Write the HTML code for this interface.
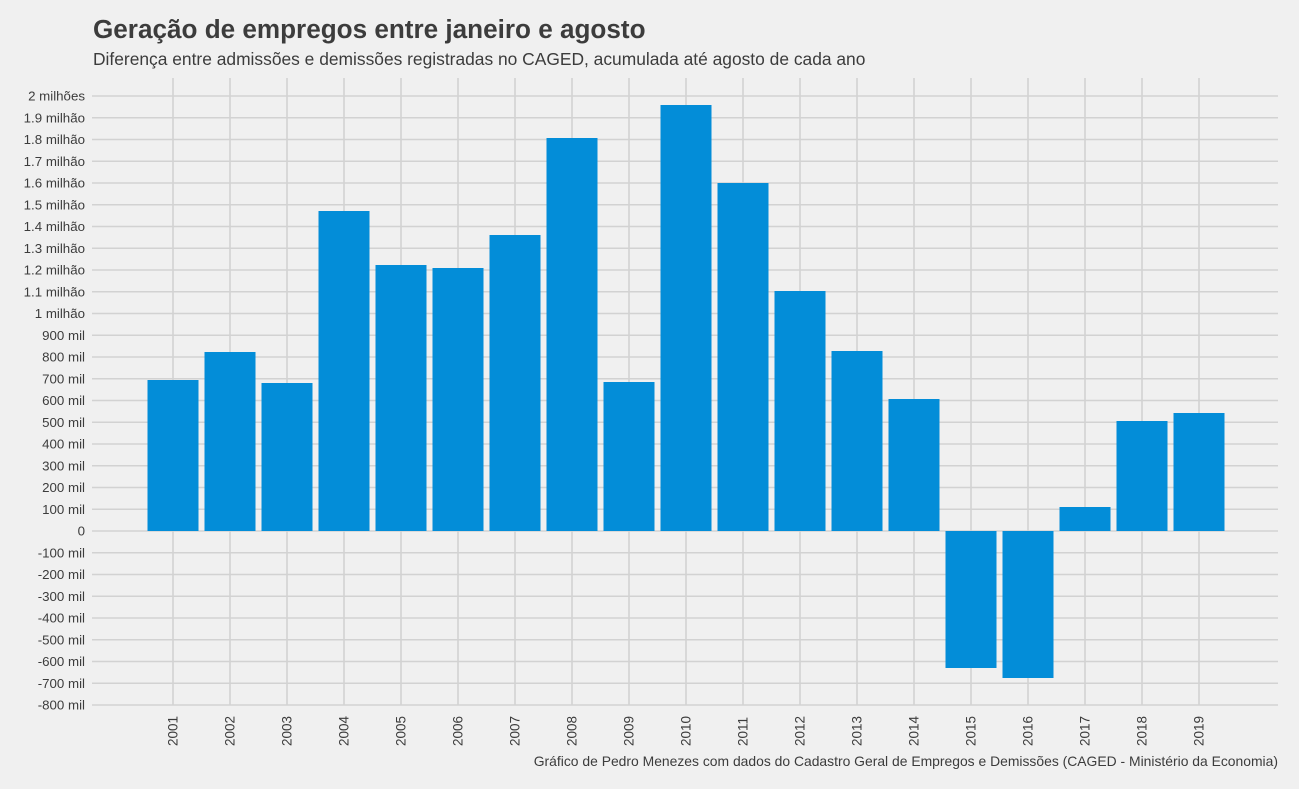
<!DOCTYPE html>
<html><head><meta charset="utf-8"><style>
html,body{margin:0;padding:0;background:#f0f0f0;}
svg{display:block;font-family:"Liberation Sans",sans-serif;}
</style></head><body>
<svg width="1299" height="789" viewBox="0 0 1299 789" xmlns="http://www.w3.org/2000/svg">
<rect width="1299" height="789" fill="#f0f0f0"/>
<text x="93" y="38" font-size="26.1" font-weight="bold" fill="#3c3c3c">Geração de empregos entre janeiro e agosto</text>
<text x="93" y="65" font-size="17.4" fill="#3c3c3c">Diferença entre admissões e demissões registradas no CAGED, acumulada até agosto de cada ano</text>
<g stroke="#d2d2d2" stroke-width="1.6" id="grid"></g>
<g id="bars" fill="#038dd8"></g>
<g id="ylab" font-size="13.3" fill="#3c3c3c" text-anchor="end"></g>
<g id="xlab" font-size="13.5" fill="#3c3c3c"></g>
<text x="1278" y="766" font-size="13.9" fill="#3c3c3c" text-anchor="end">Gráfico de Pedro Menezes com dados do Cadastro Geral de Empregos e Demissões (CAGED - Ministério da Economia)</text>
<script>
var ns="http://www.w3.org/2000/svg";
function el(t,a,p,txt){var e=document.createElementNS(ns,t);for(var k in a)e.setAttribute(k,a[k]);if(txt!=null)e.textContent=txt;document.getElementById(p).appendChild(e);}
var y0=531,u=21.75;
for(var i=-8;i<=20;i++){var y=y0-i*u;el('line',{x1:92,x2:1278,y1:y,y2:y},'grid');
var l=i==0?'0':(i==20?'2 milhões':(i>=10?(i==10?'1 milhão':(i/10).toFixed(1)+' milhão'):(i*100)+' mil'));
el('text',{x:85,y:y+4.5},'ylab',l);}
var tops=[380,352,383,211,265,268,235,138,382,105,183,291,351,399,-668,-678,507,421,413];
for(var j=0;j<19;j++){var x=173+j*57;el('line',{x1:x,x2:x,y1:78,y2:705},'grid');
var t=tops[j];if(t>0)el('rect',{x:x-25.5,y:t,width:51,height:y0-t},'bars');else el('rect',{x:x-25.5,y:y0,width:51,height:-t-y0},'bars');
el('text',{x:0,y:0,transform:'translate('+(x+4.5)+',746) rotate(-90)'},'xlab',String(2001+j));}
</script>
</svg>
</body></html>
